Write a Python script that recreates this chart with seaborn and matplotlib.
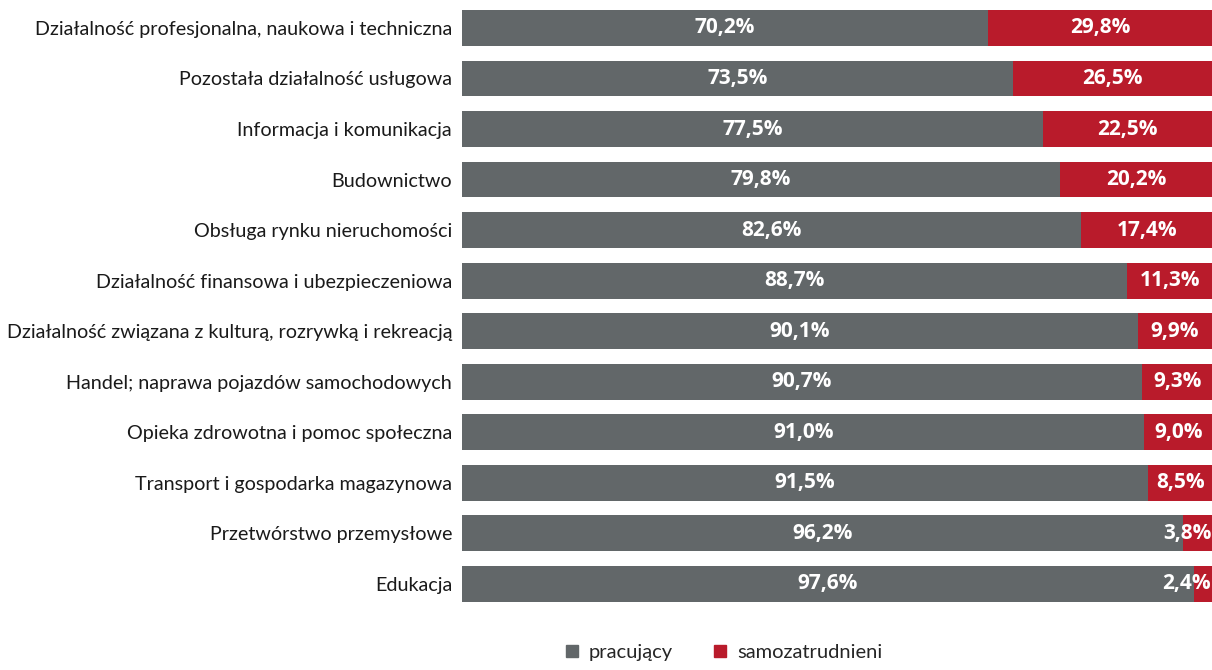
import matplotlib
matplotlib.use("Agg")
import matplotlib.pyplot as plt
from matplotlib.lines import Line2D
import seaborn as sns
import pandas as pd

categories = [
    "Działalność profesjonalna, naukowa i techniczna",
    "Pozostała działalność usługowa",
    "Informacja i komunikacja",
    "Budownictwo",
    "Obsługa rynku nieruchomości",
    "Działalność finansowa i ubezpieczeniowa",
    "Działalność związana z kulturą, rozrywką i rekreacją",
    "Handel; naprawa pojazdów samochodowych",
    "Opieka zdrowotna i pomoc społeczna",
    "Transport i gospodarka magazynowa",
    "Przetwórstwo przemysłowe",
    "Edukacja",
]
pracujacy = [70.2, 73.5, 77.5, 79.8, 82.6, 88.7, 90.1, 90.7, 91.0, 91.5, 96.2, 97.6]
samozatrudnieni = [29.8, 26.5, 22.5, 20.2, 17.4, 11.3, 9.9, 9.3, 9.0, 8.5, 3.8, 2.4]
series_names = ["pracujący", "samozatrudnieni"]

GRAY = "#626769"
RED = "#B91B2B"

df = pd.DataFrame({"kat": categories, "prac": pracujacy, "samo": samozatrudnieni})
df["total"] = df["prac"] + df["samo"]

sns.set_theme(style="white")
plt.rcParams["font.family"] = ["Lato", "DejaVu Sans"]

fig = plt.figure(figsize=(12.12, 6.70), dpi=100)
ax = fig.add_axes([0.381, 0.091, 0.619, 0.905])

# stacked bars: full-length red bar underneath, gray share on top
sns.barplot(data=df, x="total", y="kat", color=RED, width=0.71,
            saturation=1, linewidth=0, ax=ax, orient="h")
sns.barplot(data=df, x="prac", y="kat", color=GRAY, width=0.71,
            saturation=1, linewidth=0, ax=ax, orient="h")

ax.set_xlim(0, 100)
ax.set_ylim(len(categories) - 0.5, -0.5)
ax.set_xlabel("")
ax.set_ylabel("")
ax.set_xticks([])
ax.tick_params(axis="y", length=0, pad=7, labelsize=14.2, labelcolor="#1a1a1a")
for s in ax.spines.values():
    s.set_visible(False)

lbl_kw = dict(color="white", fontsize=15, fontweight="bold", va="center",
              family=["Open Sans", "DejaVu Sans"])
for i, (p, s) in enumerate(zip(pracujacy, samozatrudnieni)):
    ax.text(p / 2, i, f"{p:.1f}%".replace(".", ","), ha="center", **lbl_kw)
    txt = f"{s:.1f}%".replace(".", ",")
    if s < 8:
        ax.text(99.9, i, txt, ha="right", **lbl_kw)
    else:
        ax.text(p + s / 2, i, txt, ha="center", **lbl_kw)

handles = [
    Line2D([], [], marker="s", linestyle="none", markersize=8,
           markerfacecolor=GRAY, markeredgecolor=GRAY),
    Line2D([], [], marker="s", linestyle="none", markersize=8,
           markerfacecolor=RED, markeredgecolor=RED),
]
fig.legend(handles, series_names, loc="lower center", bbox_to_anchor=(0.596, -0.014),
           ncol=2, frameon=False, fontsize=14.5, handletextpad=0.35,
           columnspacing=1.85, handlelength=1.0)

fig.savefig("out.png", dpi=100)
